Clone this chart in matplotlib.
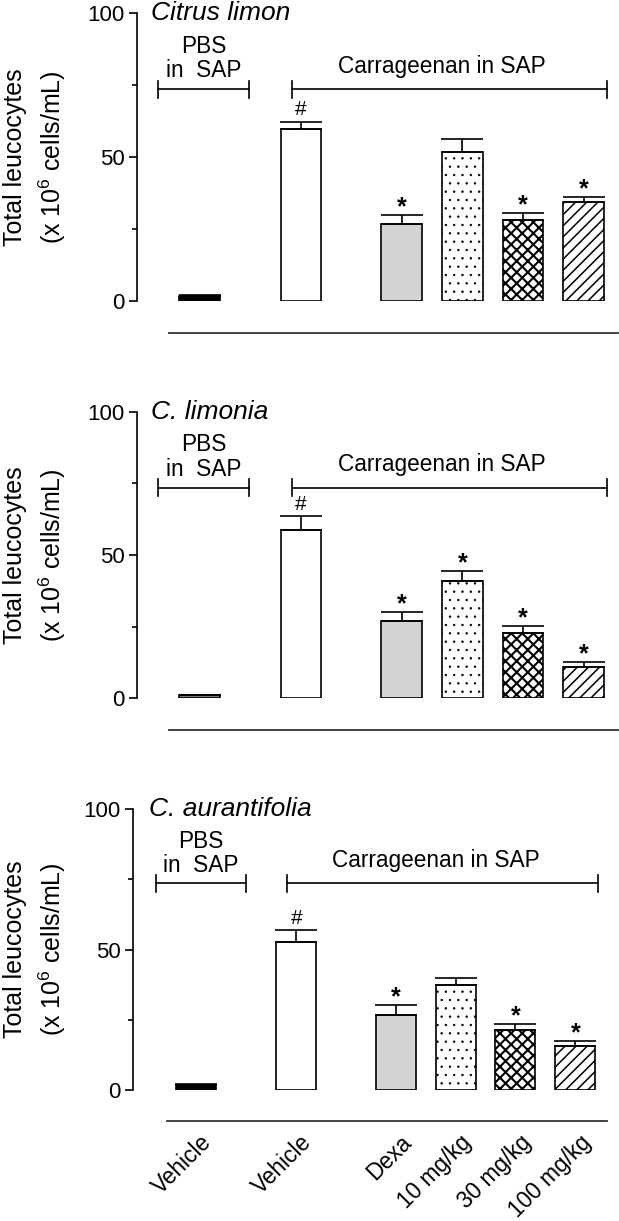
import matplotlib
matplotlib.use('Agg')
import matplotlib.pyplot as plt

plt.rcParams['font.family'] = ['Liberation Sans', 'DejaVu Sans']
plt.rcParams['mathtext.fontset'] = 'custom'
plt.rcParams['mathtext.rm'] = 'Liberation Sans'
plt.rcParams['mathtext.it'] = 'Liberation Sans:italic'
plt.rcParams['hatch.linewidth'] = 1.0

# ---------------- data ----------------
groups = ['Vehicle', 'Vehicle', 'Dexa', '10 mg/kg', '30 mg/kg', '100 mg/kg']
positions = [0, 1.67, 3.33, 4.33, 5.33, 6.33]
panel_titles = ['Citrus limon', 'C. limonia', 'C. aurantifolia']

means_limon = [1.8, 59.6, 26.6, 51.6, 28.1, 34.3]
sem_limon = [0.4, 2.7, 3.2, 4.5, 2.5, 1.9]
marks_limon = ['', '#', '*', '', '*', '*']

means_limonia = [0.9, 58.7, 27.0, 40.8, 22.6, 10.9]
sem_limonia = [0.3, 5.0, 3.2, 3.6, 2.6, 1.8]
marks_limonia = ['', '#', '*', '*', '*', '*']

means_aur = [1.8, 52.7, 26.7, 37.3, 21.5, 15.7]
sem_aur = [0.3, 4.2, 3.5, 2.7, 2.1, 1.8]
marks_aur = ['', '#', '*', '', '*', '*']

panels = [
    (panel_titles[0], means_limon, sem_limon, marks_limon),
    (panel_titles[1], means_limonia, sem_limonia, marks_limonia),
    (panel_titles[2], means_aur, sem_aur, marks_aur),
]

# ---------------- styles ----------------
first_colors = ['black', '#7a7a7a', 'black']
faces = [None, 'white', '#d3d3d3', 'white', 'white', 'white']
hatches = [None, None, None, '..', 'xxx', '///']
hatch_lws = [1.0, 1.0, 1.0, 0.5, 1.5, 1.1]

W, H = 619, 1221
fig = plt.figure(figsize=(W / 100, H / 100), dpi=100)

# axes geometry in pixels: (left px, right px, top px(100), bottom px(0), xlim left)
geoms = [
    (137, 619, 13, 301, -1.03),
    (137, 619, 412, 698, -1.03),
    (133, 610, 809, 1090, -1.06),
]
xright = 6.91

for i, ((title, means, sems, marks), g) in enumerate(zip(panels, geoms)):
    lpx, rpx, tpx, bpx, xl = g
    ax = fig.add_axes([lpx / W, 1 - bpx / H, (rpx - lpx) / W, (bpx - tpx) / H])
    ax.set_xlim(xl, xright)
    ax.set_ylim(0, 100)

    for j in range(len(groups)):
        fc = first_colors[i] if j == 0 else faces[j]
        bars = ax.bar(positions[j], means[j], width=0.67, color=fc, edgecolor='black',
                      linewidth=1.2, hatch=hatches[j], zorder=2)
        for p in bars:
            try:
                p.set_hatch_linewidth(hatch_lws[j])
            except AttributeError:
                pass
        ax.errorbar(positions[j], means[j], yerr=[[0], [sems[j]]], fmt='none',
                    ecolor='black', elinewidth=1.2, capsize=15, capthick=1.2, zorder=3)
        top = means[j] + sems[j]
        if marks[j] == '*':
            ax.text(positions[j], top + 0.2, '*', ha='center', va='baseline',
                    fontsize=18, fontweight='bold', zorder=4)
        elif marks[j] == '#':
            ax.text(positions[j], top + 2.2, '#', ha='center', va='baseline',
                    fontsize=15, zorder=4)

    # spines & ticks
    for s in ['top', 'right', 'bottom']:
        ax.spines[s].set_visible(False)
    ax.spines['left'].set_linewidth(1.2)
    ax.set_xticks([])
    ax.set_yticks([0, 50, 100])
    ax.set_yticks([25, 75], minor=True)
    ax.tick_params(axis='y', which='major', length=6, width=1.2, labelsize=16, pad=3)
    ax.tick_params(axis='y', which='minor', length=3.5, width=1.2)

    # title
    ax.text(-0.8, 97.5, title, ha='left', va='baseline', fontsize=19, style='italic')

    # brackets
    by = 73.5
    for x0, x1 in [(-0.68, 0.82), (1.52, 6.71)]:
        ax.plot([x0, x1], [by, by], color='black', lw=1.2, clip_on=False)
        ax.plot([x0, x0], [by - 3, by + 3], color='black', lw=1.2, clip_on=False)
        ax.plot([x1, x1], [by - 3, by + 3], color='black', lw=1.2, clip_on=False)
    ax.text(0.07, 88.5, 'PBS', ha='center', va='center', fontsize=16.3)
    ax.text(0.07, 80.0, 'in  SAP', ha='center', va='center', fontsize=16.3)
    ax.text(4.0, 81.5, 'Carrageenan in SAP', ha='center', va='center', fontsize=16.3)

    # separator line below
    ax.plot([-0.5, 6.9 if i < 2 else 6.86], [-11.2, -11.2], color='#333333', lw=1.3,
            clip_on=False)

    # y label (two lines)
    ymid = 1 - (tpx + bpx) / 2 / H
    fig.text(15 / W, ymid, 'Total leucocytes', rotation=90, ha='center', va='center',
             fontsize=18)
    fig.text(52 / W, ymid, r'(x 10$^{6}$ cells/mL)', rotation=90, ha='center',
             va='center', fontsize=18)

    if i == 2:
        for j, lab in enumerate(groups):
            ax.text(positions[j] + 0.2, -17.5, lab, rotation=45, rotation_mode='anchor',
                    ha='right', va='center', fontsize=16.3, clip_on=False)

fig.savefig('out.png', dpi=100)
